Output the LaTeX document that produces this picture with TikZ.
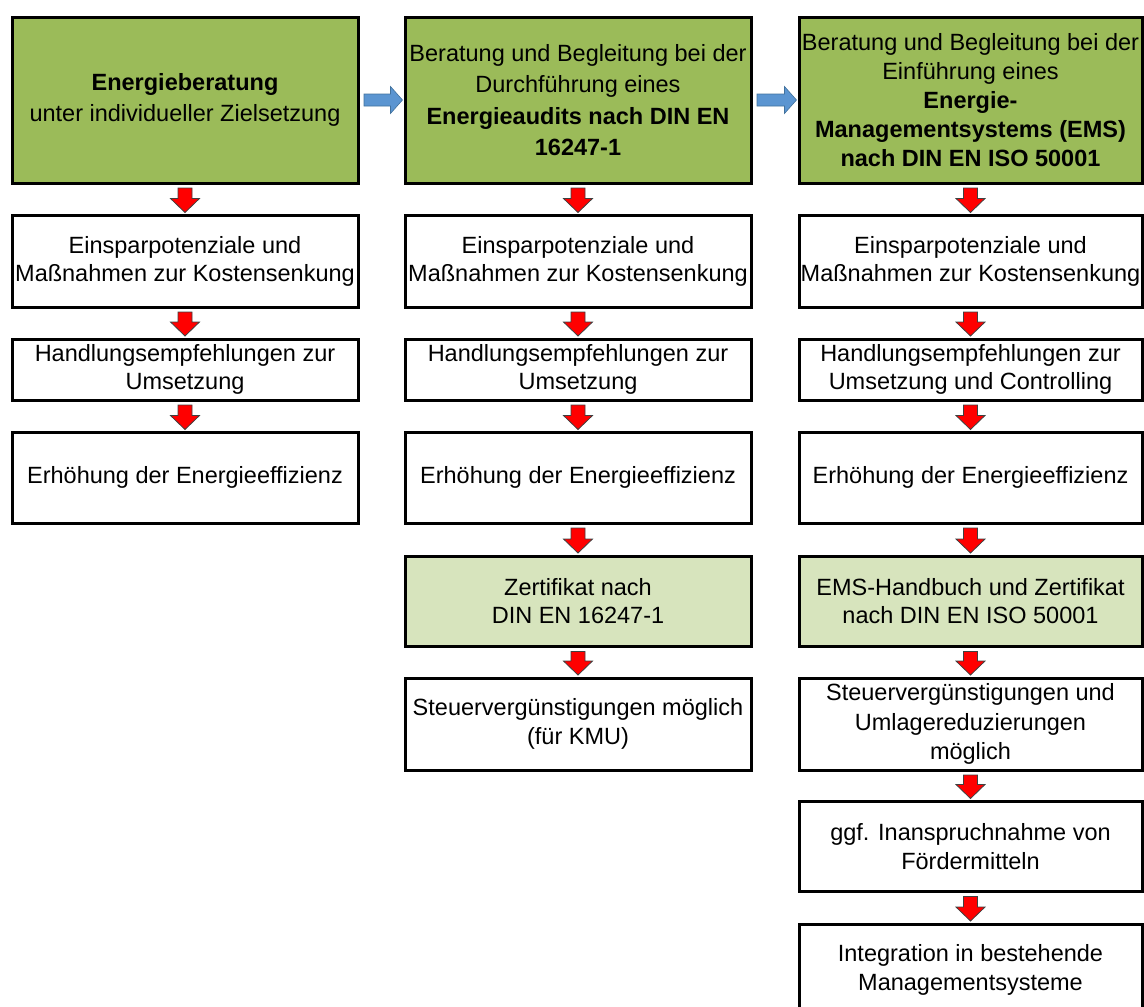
\documentclass[tikz,border=0pt]{standalone}
\usepackage{fontspec}
\setmainfont{Liberation Sans}
\usetikzlibrary{calc}
\definecolor{dkgreen}{HTML}{9BBB59}
\definecolor{ltgreen}{HTML}{D7E4BD}
\definecolor{bluearr}{HTML}{5B95D1}
\definecolor{bluearrline}{HTML}{41719C}
\definecolor{redarr}{HTML}{FF0000}
\tikzset{
  box/.style={draw=black, line width=3pt, minimum width=346pt, align=center,
    inner sep=0pt, anchor=north, font=\fontsize{23.5}{28.5}\selectfont},
  darkbox/.style={box, fill=dkgreen},
  lightbox/.style={box, fill=ltgreen},
  redarrow/.style={fill=redarr, draw=black!75, line width=0.8pt, line join=miter},
  bluearrow/.style={fill=bluearr, draw=bluearrline, line width=0.6pt, line join=miter}
}
\newcommand\redconn[2]{%
  \draw[redarrow] let \p1=(#1.south), \p2=(#2.north) in
    (\x1-7pt,\y1-3.5pt) -- (\x1+7pt,\y1-3.5pt) -- (\x1+7pt,\y2+15.5pt) --
    (\x1+14.5pt,\y2+15.5pt) -- (\x1,\y2+1.5pt) -- (\x1-14.5pt,\y2+15.5pt) --
    (\x1-7pt,\y2+15.5pt) -- cycle;}
\newcommand\blueconn[2]{%
  \draw[bluearrow] let \p1=(#1.east), \p2=(#2.west) in
    (\x1+4.5pt,\y1+6pt) -- (\x2-13pt,\y1+6pt) -- (\x2-13pt,\y1+13.5pt) --
    (\x2-1pt,\y1) -- (\x2-13pt,\y1-13.5pt) -- (\x2-13pt,\y1-6pt) --
    (\x1+4.5pt,\y1-6pt) -- cycle;}
\begin{document}
\begin{tikzpicture}[x=1pt,y=-1pt]
\useasboundingbox (0,0) rectangle (1144,1007);
\clip (0,0) rectangle (1144,1007);
% column 1
\node[darkbox, minimum height=166pt] (a1) at (185,15.5)
  {\textbf{Energieberatung}\\[2pt]unter individueller Zielsetzung};
\node[box, minimum height=91.5pt] (a2) at (185,214)
  {Einsparpotenziale und\\Maßnahmen zur Kostensenkung};
\node[box, minimum height=61pt] (a3) at (185,337.5)
  {Handlungsempfehlungen zur\\Umsetzung};
\node[box, minimum height=90.5pt] (a4) at (185,431)
  {Erhöhung der Energieeffizienz};
% column 2
\node[darkbox, minimum height=166pt, font=\fontsize{23.5}{31.5}\selectfont] (b1) at (578,15.5)
  {Beratung und Begleitung bei der\\Durchführung eines\\\textbf{Energieaudits nach DIN EN}\\\textbf{16247-1}};
\node[box, minimum height=91.5pt] (b2) at (578,214)
  {Einsparpotenziale und\\Maßnahmen zur Kostensenkung};
\node[box, minimum height=61pt] (b3) at (578,337.5)
  {Handlungsempfehlungen zur\\Umsetzung};
\node[box, minimum height=90.5pt] (b4) at (578,431)
  {Erhöhung der Energieeffizienz};
\node[lightbox, minimum height=90.5pt] (b5) at (578,554.5)
  {Zertifikat nach\\DIN EN 16247-1};
\node[box, minimum height=92pt] (b6) at (578,676.5)
  {Steuervergünstigungen möglich\\(für KMU)};
% column 3
\node[darkbox, minimum height=166pt, minimum width=343pt, font=\fontsize{23.5}{28.8}\selectfont] (c1) at (970.5,15.5)
  {Beratung und Begleitung bei der\\Einführung eines\\\textbf{Energie-}\\\textbf{Managementsystems (EMS)}\\\textbf{nach DIN EN ISO 50001}};
\node[box, minimum height=91.5pt, minimum width=343pt] (c2) at (970.5,214)
  {Einsparpotenziale und\\Maßnahmen zur Kostensenkung};
\node[box, minimum height=61pt, minimum width=343pt] (c3) at (970.5,337.5)
  {Handlungsempfehlungen zur\\Umsetzung und Controlling};
\node[box, minimum height=90.5pt, minimum width=343pt] (c4) at (970.5,431)
  {Erhöhung der Energieeffizienz};
\node[lightbox, minimum height=90.5pt, minimum width=343pt] (c5) at (970.5,554.5)
  {EMS-Handbuch und Zertifikat\\nach DIN EN ISO 50001};
\node[box, minimum height=92pt, minimum width=343pt, font=\fontsize{23.5}{29.5}\selectfont] (c6) at (970.5,676.5)
  {Steuervergünstigungen und\\Umlagereduzierungen\\möglich};
\node[box, minimum height=90pt, minimum width=343pt] (c7) at (970.5,800)
  {ggf. Inanspruchnahme von\\Fördermitteln};
\node[box, minimum height=92pt, minimum width=343pt] (c8) at (970.5,922.5)
  {Integration in bestehende\\Managementsysteme};
% red arrows
\redconn{a1}{a2}\redconn{a2}{a3}\redconn{a3}{a4}
\redconn{b1}{b2}\redconn{b2}{b3}\redconn{b3}{b4}\redconn{b4}{b5}\redconn{b5}{b6}
\redconn{c1}{c2}\redconn{c2}{c3}\redconn{c3}{c4}\redconn{c4}{c5}\redconn{c5}{c6}\redconn{c6}{c7}\redconn{c7}{c8}
% blue arrows
\blueconn{a1}{b1}
\blueconn{b1}{c1}
\end{tikzpicture}
\end{document}
